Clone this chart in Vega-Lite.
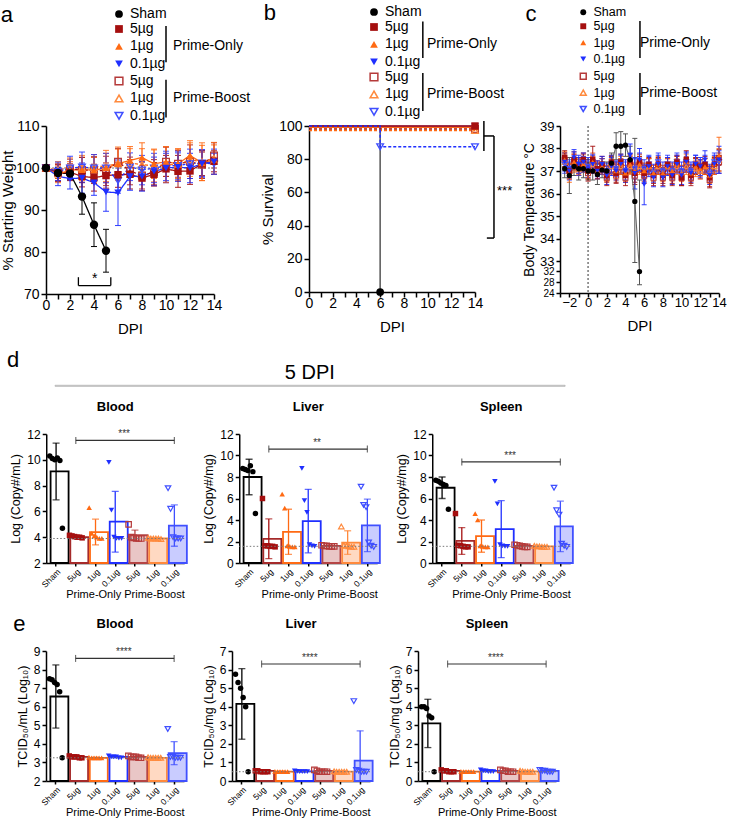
{
"$schema": "https://vega.github.io/schema/vega-lite/v6.json",
"background": "white",
"padding": {"left": 0, "top": 2, "right": 2, "bottom": 2},
"spacing": 13,
"vconcat": [
{"hconcat": [
{
"width": 168, "height": 168,
"title": {"text": "a", "anchor": "start", "fontSize": 22, "fontWeight": "normal", "offset": -20},
"layer": [
{"data": {"name": "wt"}, "transform": [{"flatten": ["ds", "ms", "es"], "as": ["d", "m", "e"]}],
 "mark": {"type": "errorbar", "ticks": {"size": 6}, "thickness": 1},
 "encoding": {
  "x": {"field": "d", "type": "quantitative", "scale": {"domain": [0, 14], "nice": false}, "title": "DPI", "axis": {"values": [0,1,2,3,4,5,6,7,8,9,10,11,12,13,14], "tickCount": 100, "format": "d", "labelExpr": "datum.value % 2 == 0 ? datum.label : ''", "labelFontSize": 14, "titleFontSize": 15, "tickSize": 5, "labelFlush": false, "labelOverlap": false, "labelBound": false, "labelPadding": -1, "titlePadding": 9}},
  "y": {"field": "m", "type": "quantitative", "scale": {"domain": [70, 110], "nice": false, "zero": false}, "title": "% Starting Weight", "axis": {"values": [70, 80, 90, 100, 110], "tickCount": 100, "format": "d", "labelFontSize": 14, "titleFontSize": 15, "tickSize": 5, "titlePadding": 0, "labelOverlap": false}},
  "yError": {"field": "e"},
  "color": {"field": "k", "type": "nominal", "scale": {"domain": ["Sham", "5µg", "1µg", "0.1µg"], "range": ["#000000", "#A50F0F", "#FF6A13", "#1F2FFF"]}, "legend": null},
  "opacity": {"field": "g", "type": "nominal", "scale": {"domain": ["Sham", "PO", "PB"], "range": [1, 0.85, 0.55]}, "legend": null}
 }},
{"data": {"values": [{}]}, "mark": {"type": "rule", "strokeDash": [2, 2], "color": "#777"}, "encoding": {"y": {"datum": 100}}},
{"data": {"name": "wt"}, "transform": [{"flatten": ["ds", "ms", "es"], "as": ["d", "m", "e"]}],
 "mark": {"type": "line", "strokeWidth": 1.3},
 "encoding": {
  "x": {"field": "d", "type": "quantitative"},
  "y": {"field": "m", "type": "quantitative"},
  "color": {"field": "k", "type": "nominal", "scale": {"domain": ["Sham", "5µg", "1µg", "0.1µg"], "range": ["#000000", "#A50F0F", "#FF6A13", "#1F2FFF"]}, "legend": null},
  "strokeDash": {"field": "g", "type": "nominal", "scale": {"domain": ["Sham", "PO", "PB"], "range": [[1, 0], [1, 0], [3, 2]]}, "legend": null}
 }},
{"data": {"name": "wt"}, "transform": [{"flatten": ["ds", "ms", "es"], "as": ["d", "m", "e"]}, {"filter": "datum.g == 'PB'"}],
 "mark": {"type": "point", "filled": false, "size": 45, "strokeWidth": 1.3, "opacity": 1},
 "encoding": {
  "x": {"field": "d", "type": "quantitative"},
  "y": {"field": "m", "type": "quantitative"},
  "color": {"field": "k", "type": "nominal", "scale": {"domain": ["5µg", "1µg", "0.1µg"], "range": ["#B53A3A", "#FF8A3D", "#3F4FFF"]}, "legend": {"orient": "none", "legendX": 66, "legendY": -52, "title": "Prime-Boost", "titlePadding": 8}},
  "shape": {"field": "k", "type": "nominal", "scale": {"domain": ["5µg", "1µg", "0.1µg"], "range": ["square", "triangle-up", "triangle-down"]}}
 }},
{"data": {"name": "wt"}, "transform": [{"flatten": ["ds", "ms", "es"], "as": ["d", "m", "e"]}, {"filter": "datum.g == 'PO'"}],
 "mark": {"type": "point", "filled": true, "size": 55, "opacity": 1},
 "encoding": {
  "x": {"field": "d", "type": "quantitative"},
  "y": {"field": "m", "type": "quantitative"},
  "color": {"field": "k", "type": "nominal", "scale": {"domain": ["5µg", "1µg", "0.1µg"], "range": ["#A50F0F", "#FF6A13", "#1F2FFF"]}, "legend": {"orient": "none", "legendX": 66, "legendY": -104, "title": "Prime-Only", "titlePadding": 8}},
  "shape": {"field": "k", "type": "nominal", "scale": {"domain": ["5µg", "1µg", "0.1µg"], "range": ["square", "triangle-up", "triangle-down"]}}
 }},
{"data": {"name": "wt"}, "transform": [{"flatten": ["ds", "ms", "es"], "as": ["d", "m", "e"]}, {"filter": "datum.g == 'Sham'"}],
 "mark": {"type": "point", "filled": true, "size": 70, "opacity": 1},
 "encoding": {
  "x": {"field": "d", "type": "quantitative"},
  "y": {"field": "m", "type": "quantitative"},
  "color": {"field": "k", "type": "nominal", "scale": {"domain": ["Sham"], "range": ["#000000"]}, "legend": {"orient": "none", "legendX": 66, "legendY": -119, "title": null}},
  "shape": {"field": "k", "type": "nominal", "scale": {"domain": ["Sham"], "range": ["circle"]}}
 }},
{"data": {"values": [{}]}, "mark": {"type": "rule", "strokeWidth": 1.3, "color": "#000"}, "encoding": {"x": {"datum": 2.7}, "x2": {"datum": 5.4}, "y": {"datum": 72}}},
{"data": {"values": [{}]}, "mark": {"type": "rule", "strokeWidth": 1.3, "color": "#000"}, "encoding": {"x": {"datum": 2.7}, "y": {"datum": 72}, "y2": {"datum": 74}}},
{"data": {"values": [{}]}, "mark": {"type": "rule", "strokeWidth": 1.3, "color": "#000"}, "encoding": {"x": {"datum": 5.4}, "y": {"datum": 72}, "y2": {"datum": 74}}},
{"data": {"values": [{}]}, "mark": {"type": "text", "fontSize": 14, "color": "#000"}, "encoding": {"x": {"datum": 4.05}, "y": {"datum": 73.6}, "text": {"value": "*"}}},
{"data": {"values": [{}]}, "mark": {"type": "rule", "strokeWidth": 1.5, "color": "#000", "clip": false}, "encoding": {"x": {"datum": 10.0}, "y": {"datum": 133.8}, "y2": {"datum": 125.2}}},
{"data": {"values": [{}]}, "mark": {"type": "rule", "strokeWidth": 1.5, "color": "#000", "clip": false}, "encoding": {"x": {"datum": 10.0}, "y": {"datum": 121}, "y2": {"datum": 112}}}
],
"resolve": {"scale": {"color": "independent", "shape": "independent"}}
},
{
"width": 166, "height": 166,
"title": {"text": "b", "anchor": "start", "fontSize": 22, "fontWeight": "normal", "offset": -20, "dx": 3},
"layer": [
{"data": {"name": "sv"}, "transform": [{"flatten": ["ds", "ms", "mk"], "as": ["d", "m", "q"]}],
 "mark": {"type": "line", "interpolate": "step-after", "strokeWidth": 1.5},
 "encoding": {
  "x": {"field": "d", "type": "quantitative", "scale": {"domain": [0, 14], "nice": false}, "title": "DPI", "axis": {"values": [0,1,2,3,4,5,6,7,8,9,10,11,12,13,14], "tickCount": 100, "format": "d", "labelExpr": "datum.value % 2 == 0 ? datum.label : ''", "labelFontSize": 14, "titleFontSize": 15, "tickSize": 5, "labelFlush": false, "labelOverlap": false, "labelBound": false, "labelPadding": -1, "titlePadding": 9}},
  "y": {"field": "m", "type": "quantitative", "scale": {"domain": [0, 100], "nice": false}, "title": "% Survival", "axis": {"values": [0, 20, 40, 60, 80, 100], "tickCount": 100, "format": "d", "labelFontSize": 14, "titleFontSize": 15, "tickSize": 5, "titlePadding": 3, "labelOverlap": false}},
  "color": {"field": "k", "type": "nominal", "scale": {"domain": ["Sham", "5µg", "1µg", "0.1µg"], "range": ["#555555", "#A50F0F", "#FF6A13", "#1F2FFF"]}, "legend": null},
  "strokeDash": {"field": "g", "type": "nominal", "scale": {"domain": ["Sham", "PO", "PB"], "range": [[1, 0], [1, 0], [3, 2]]}, "legend": null}
 }},
{"data": {"name": "sv"}, "transform": [{"flatten": ["ds", "ms", "mk"], "as": ["d", "m", "q"]}, {"filter": "datum.q == 1 && datum.g == 'PB'"}],
 "mark": {"type": "point", "filled": false, "size": 45, "strokeWidth": 1.3, "opacity": 1},
 "encoding": {
  "x": {"field": "d", "type": "quantitative"},
  "y": {"field": "m", "type": "quantitative"},
  "color": {"field": "k", "type": "nominal", "scale": {"domain": ["5µg", "1µg", "0.1µg"], "range": ["#B53A3A", "#FF8A3D", "#3F4FFF"]}, "legend": {"orient": "none", "legendX": 58, "legendY": -56, "title": "Prime-Boost", "titlePadding": 7}},
  "shape": {"field": "k", "type": "nominal", "scale": {"domain": ["5µg", "1µg", "0.1µg"], "range": ["square", "triangle-up", "triangle-down"]}}
 }},
{"data": {"name": "sv"}, "transform": [{"flatten": ["ds", "ms", "mk"], "as": ["d", "m", "q"]}, {"filter": "datum.q == 1 && datum.g == 'PO'"}],
 "mark": {"type": "point", "filled": true, "size": 55, "opacity": 1},
 "encoding": {
  "x": {"field": "d", "type": "quantitative"},
  "y": {"field": "m", "type": "quantitative"},
  "color": {"field": "k", "type": "nominal", "scale": {"domain": ["5µg", "1µg", "0.1µg"], "range": ["#A50F0F", "#FF6A13", "#1F2FFF"]}, "legend": {"orient": "none", "legendX": 58, "legendY": -106, "title": "Prime-Only", "titlePadding": 7}},
  "shape": {"field": "k", "type": "nominal", "scale": {"domain": ["5µg", "1µg", "0.1µg"], "range": ["square", "triangle-up", "triangle-down"]}}
 }},
{"data": {"name": "sv"}, "transform": [{"flatten": ["ds", "ms", "mk"], "as": ["d", "m", "q"]}, {"filter": "datum.q == 1 && datum.g == 'Sham'"}],
 "mark": {"type": "point", "filled": true, "size": 60, "opacity": 1},
 "encoding": {
  "x": {"field": "d", "type": "quantitative"},
  "y": {"field": "m", "type": "quantitative"},
  "color": {"field": "k", "type": "nominal", "scale": {"domain": ["Sham"], "range": ["#000000"]}, "legend": {"orient": "none", "legendX": 58, "legendY": -121, "title": null}},
  "shape": {"field": "k", "type": "nominal", "scale": {"domain": ["Sham"], "range": ["circle"]}}
 }},
{"data": {"values": [{}]}, "mark": {"type": "rule", "strokeWidth": 1.5, "color": "#000", "clip": false}, "encoding": {"x": {"datum": 14.75}, "y": {"datum": 103}, "y2": {"datum": 85}}},
{"data": {"values": [{}]}, "mark": {"type": "rule", "strokeWidth": 1.5, "color": "#000", "clip": false}, "encoding": {"x": {"datum": 14.75}, "x2": {"datum": 15.6}, "y": {"datum": 94}}},
{"data": {"values": [{}]}, "mark": {"type": "rule", "strokeWidth": 1.5, "color": "#000", "clip": false}, "encoding": {"x": {"datum": 15.6}, "y": {"datum": 94}, "y2": {"datum": 32.5}}},
{"data": {"values": [{}]}, "mark": {"type": "rule", "strokeWidth": 1.5, "color": "#000", "clip": false}, "encoding": {"x": {"datum": 15.0}, "x2": {"datum": 15.6}, "y": {"datum": 32.5}}},
{"data": {"values": [{}]}, "mark": {"type": "text", "fontSize": 13, "color": "#000"}, "encoding": {"x": {"datum": 16.5}, "y": {"datum": 61}, "text": {"value": "***"}}},
{"data": {"values": [{}]}, "mark": {"type": "rule", "strokeWidth": 1.5, "color": "#000", "clip": false}, "encoding": {"x": {"datum": 9.6}, "y": {"datum": 163}, "y2": {"datum": 141}}},
{"data": {"values": [{}]}, "mark": {"type": "rule", "strokeWidth": 1.5, "color": "#000", "clip": false}, "encoding": {"x": {"datum": 9.6}, "y": {"datum": 132}, "y2": {"datum": 109}}}
],
"resolve": {"scale": {"color": "independent", "shape": "independent"}}
},
{
"width": 159, "height": 167,
"title": {"text": "c", "anchor": "start", "fontSize": 22, "fontWeight": "normal", "offset": -20, "dx": 3},
"layer": [
{"data": {"name": "bt"}, "transform": [{"flatten": ["ds", "ms", "es"], "as": ["d", "m", "e"]}],
 "mark": {"type": "errorbar", "ticks": {"size": 5}, "thickness": 1},
 "encoding": {
  "x": {"field": "d", "type": "quantitative", "scale": {"domain": [-3, 14], "nice": false}, "title": "DPI", "axis": {"values": [-3,-2,-1,0,1,2,3,4,5,6,7,8,9,10,11,12,13,14], "tickCount": 100, "format": "d", "labelExpr": "datum.value % 2 == 0 ? datum.label : ''", "labelFontSize": 13, "titleFontSize": 15, "tickSize": 4, "labelFlush": false, "labelOverlap": false, "labelBound": false, "labelPadding": -1, "titlePadding": 9}},
  "y": {"field": "m", "type": "quantitative", "scale": {"domain": [24, 32, 33, 39], "range": [167, 145, 135, 0], "nice": false, "zero": false}, "title": "Body Temperature °C", "axis": {"values": [24, 28, 32, 33, 34, 35, 36, 37, 38, 39], "tickCount": 100, "format": "d", "labelFontSize": {"condition": {"test": "datum.value < 33", "value": 10}, "value": 13}, "titleFontSize": 14, "tickSize": 4, "titlePadding": 3, "labelOverlap": false}},
  "yError": {"field": "e"},
  "color": {"field": "k", "type": "nominal", "scale": {"domain": ["Sham", "5µg", "1µg", "0.1µg"], "range": ["#555555", "#A50F0F", "#FF6A13", "#1F2FFF"]}, "legend": null},
  "opacity": {"field": "g", "type": "nominal", "scale": {"domain": ["Sham", "PO", "PB"], "range": [1, 0.8, 0.55]}, "legend": null}
 }},
{"data": {"values": [{}]}, "mark": {"type": "rule", "strokeDash": [2, 2], "color": "#333"}, "encoding": {"x": {"datum": 0}}},
{"data": {"name": "bt"}, "transform": [{"flatten": ["ds", "ms", "es"], "as": ["d", "m", "e"]}],
 "mark": {"type": "line", "strokeWidth": 1.1},
 "encoding": {
  "x": {"field": "d", "type": "quantitative"},
  "y": {"field": "m", "type": "quantitative"},
  "color": {"field": "k", "type": "nominal", "scale": {"domain": ["Sham", "5µg", "1µg", "0.1µg"], "range": ["#666666", "#A50F0F", "#FF6A13", "#1F2FFF"]}, "legend": null},
  "strokeDash": {"field": "g", "type": "nominal", "scale": {"domain": ["Sham", "PO", "PB"], "range": [[1, 0], [1, 0], [2, 2]]}, "legend": null}
 }},
{"data": {"name": "bt"}, "transform": [{"flatten": ["ds", "ms", "es"], "as": ["d", "m", "e"]}, {"filter": "datum.g == 'PB'"}],
 "mark": {"type": "point", "filled": false, "size": 25, "strokeWidth": 1.1, "opacity": 1},
 "encoding": {
  "x": {"field": "d", "type": "quantitative"},
  "y": {"field": "m", "type": "quantitative"},
  "color": {"field": "k", "type": "nominal", "scale": {"domain": ["5µg", "1µg", "0.1µg"], "range": ["#B53A3A", "#FF8A3D", "#3F4FFF"]}, "legend": {"orient": "none", "legendX": 17, "legendY": -56, "title": "Prime-Boost", "titlePadding": 15, "labelFontSize": 12.5, "symbolSize": 35}},
  "shape": {"field": "k", "type": "nominal", "scale": {"domain": ["5µg", "1µg", "0.1µg"], "range": ["square", "triangle-up", "triangle-down"]}}
 }},
{"data": {"name": "bt"}, "transform": [{"flatten": ["ds", "ms", "es"], "as": ["d", "m", "e"]}, {"filter": "datum.g == 'PO'"}],
 "mark": {"type": "point", "filled": true, "size": 30, "opacity": 1},
 "encoding": {
  "x": {"field": "d", "type": "quantitative"},
  "y": {"field": "m", "type": "quantitative"},
  "color": {"field": "k", "type": "nominal", "scale": {"domain": ["5µg", "1µg", "0.1µg"], "range": ["#A50F0F", "#FF6A13", "#1F2FFF"]}, "legend": {"orient": "none", "legendX": 17, "legendY": -106, "title": "Prime-Only", "titlePadding": 15, "labelFontSize": 12.5, "symbolSize": 35}},
  "shape": {"field": "k", "type": "nominal", "scale": {"domain": ["5µg", "1µg", "0.1µg"], "range": ["square", "triangle-up", "triangle-down"]}}
 }},
{"data": {"name": "bt"}, "transform": [{"flatten": ["ds", "ms", "es"], "as": ["d", "m", "e"]}, {"filter": "datum.g == 'Sham'"}],
 "mark": {"type": "point", "filled": true, "size": 28, "opacity": 1},
 "encoding": {
  "x": {"field": "d", "type": "quantitative"},
  "y": {"field": "m", "type": "quantitative"},
  "color": {"field": "k", "type": "nominal", "scale": {"domain": ["Sham"], "range": ["#000000"]}, "legend": {"orient": "none", "legendX": 17, "legendY": -120, "title": null, "labelFontSize": 12.5, "symbolSize": 35}},
  "shape": {"field": "k", "type": "nominal", "scale": {"domain": ["Sham"], "range": ["circle"]}}
 }},
{"data": {"values": [{}]}, "mark": {"type": "rule", "strokeWidth": 1.5, "color": "#000", "clip": false}, "encoding": {"x": {"datum": 5.55}, "y": {"datum": 43.67}, "y2": {"datum": 42.02}}},
{"data": {"values": [{}]}, "mark": {"type": "rule", "strokeWidth": 1.5, "color": "#000", "clip": false}, "encoding": {"x": {"datum": 5.55}, "y": {"datum": 41.36}, "y2": {"datum": 39.49}}}
],
"resolve": {"scale": {"color": "independent", "shape": "independent"}}
}
], "spacing": 9},
{
"title": {"text": "d", "anchor": "start", "fontSize": 22, "fontWeight": "normal", "dx": -3, "offset": -10},
"spacing": 10,
"center": true,
"vconcat": [
{"width": 510, "height": 1, "view": {"stroke": "#aaaaaa", "strokeWidth": 0.8},
 "title": {"text": "5 DPI", "fontSize": 20, "fontWeight": "normal", "offset": -3},
 "data": {"values": [{"t": ""}]}, "mark": {"type": "text"}, "encoding": {"text": {"field": "t"}}},
{"hconcat": [
{
"width": 138, "height": 129,
"title": {"text": "Blood", "fontSize": 13, "fontWeight": "bold", "offset": 14},
"layer": [
{"data": {"name": "vx"}, "transform": [{"filter": "datum.p == 'dB'"}],
 "mark": {"type": "bar", "width": {"band": 0.62}, "strokeWidth": 1.8},
 "encoding": {
  "x": {"field": "c", "type": "nominal", "scale": {"domain": ["Sham","5ug PO","1ug PO","0.1ug PO","5ug PB","1ug PB","0.1ug PB"]}, "title": "Prime-Only    Prime-Boost", "axis": {"labelAngle": -45, "labelFontSize": 8.5, "labelExpr": "split(datum.label, ' ')[0]", "titleFontSize": 11, "titleAnchor": "end", "tickSize": 3, "labelPadding": 1, "titlePadding": 0}},
  "y": {"field": "m", "type": "quantitative", "scale": {"domain": [2, 12], "nice": false, "zero": false}, "title": "Log (Copy#/mL)", "axis": {"values": [2,4,6,8,10,12], "tickCount": 100, "format": "d", "labelFontSize": 12, "titleFontSize": 12.5, "tickSize": 4, "titlePadding": 4, "labelOverlap": false}},
  "y2": {"datum": 2},
  "stroke": {"field": "c", "type": "nominal", "scale": {"domain": ["Sham","5ug PO","1ug PO","0.1ug PO","5ug PB","1ug PB","0.1ug PB"], "range": ["#000000","#A52A2A","#FF6A13","#1F2FFF","#B54545","#FF8A3D","#4050FF"]}, "legend": null},
  "fill": {"field": "c", "type": "nominal", "scale": {"domain": ["Sham","5ug PO","1ug PO","0.1ug PO","5ug PB","1ug PB","0.1ug PB"], "range": ["#ffffff","#ffffff","#ffffff","#ffffff","#E9C6C6","#FFD9C2","#C9CCFF"]}, "legend": null}
 }},
{"data": {"name": "vx"}, "transform": [{"filter": "datum.p == 'dB'"}],
 "mark": {"type": "errorbar", "ticks": {"size": 7}, "thickness": 1.3, "clip": true},
 "encoding": {
  "x": {"field": "c", "type": "nominal", "title": "Prime-Only    Prime-Boost"},
  "y": {"field": "m", "type": "quantitative", "title": "Log (Copy#/mL)"},
  "yError": {"field": "e"},
  "color": {"field": "c", "type": "nominal", "scale": {"domain": ["Sham","5ug PO","1ug PO","0.1ug PO","5ug PB","1ug PB","0.1ug PB"], "range": ["#000000","#A50F0F","#FF6A13","#1F2FFF","#B53A3A","#FF8A3D","#3F4FFF"]}, "legend": null}
 }},
{"data": {"name": "vx"}, "transform": [{"filter": "datum.p == 'dB' && indexof(datum.c, 'PB') < 0"}, {"flatten": ["vs", "rs"], "as": ["v", "r"]}],
 "mark": {"type": "point", "filled": true, "size": 30, "opacity": 1},
 "encoding": {
  "x": {"field": "c", "type": "nominal", "title": "Prime-Only    Prime-Boost"},
  "xOffset": {"field": "r", "type": "nominal", "scale": {"paddingOuter": 1}},
  "y": {"field": "v", "type": "quantitative", "title": "Log (Copy#/mL)"},
  "color": {"field": "c", "type": "nominal", "scale": {"domain": ["Sham","5ug PO","1ug PO","0.1ug PO","5ug PB","1ug PB","0.1ug PB"], "range": ["#000000","#A50F0F","#FF6A13","#1F2FFF","#B53A3A","#FF8A3D","#3F4FFF"]}, "legend": null},
  "shape": {"field": "c", "type": "nominal", "scale": {"domain": ["Sham","5ug PO","1ug PO","0.1ug PO","5ug PB","1ug PB","0.1ug PB"], "range": ["circle","square","triangle-up","triangle-down","square","triangle-up","triangle-down"]}, "legend": null}
 }},
{"data": {"name": "vx"}, "transform": [{"filter": "datum.p == 'dB' && indexof(datum.c, 'PB') >= 0"}, {"flatten": ["vs", "rs"], "as": ["v", "r"]}],
 "mark": {"type": "point", "filled": false, "size": 30, "strokeWidth": 1.2, "opacity": 1},
 "encoding": {
  "x": {"field": "c", "type": "nominal", "title": "Prime-Only    Prime-Boost"},
  "xOffset": {"field": "r", "type": "nominal", "scale": {"paddingOuter": 1}},
  "y": {"field": "v", "type": "quantitative", "title": "Log (Copy#/mL)"},
  "color": {"field": "c", "type": "nominal", "scale": {"domain": ["Sham","5ug PO","1ug PO","0.1ug PO","5ug PB","1ug PB","0.1ug PB"], "range": ["#000000","#A50F0F","#FF6A13","#1F2FFF","#B53A3A","#FF8A3D","#3F4FFF"]}, "legend": null},
  "shape": {"field": "c", "type": "nominal", "scale": {"domain": ["Sham","5ug PO","1ug PO","0.1ug PO","5ug PB","1ug PB","0.1ug PB"], "range": ["circle","square","triangle-up","triangle-down","square","triangle-up","triangle-down"]}, "legend": null}
 }},
{"data": {"name": "sig"}, "transform": [{"filter": "datum.p == 'dB'"}], "mark": {"type": "rule", "strokeDash": [1.5, 2], "color": "#777"}, "encoding": {"y": {"field": "lod", "type": "quantitative", "title": "Log (Copy#/mL)"}}},
{"data": {"name": "sig"}, "transform": [{"filter": "datum.p == 'dB'"}], "mark": {"type": "rule", "strokeWidth": 1.2, "color": "#333"}, "encoding": {"x": {"field": "a", "type": "nominal", "title": "Prime-Only    Prime-Boost"}, "x2": {"field": "b"}, "y": {"field": "br", "type": "quantitative", "title": "Log (Copy#/mL)"}}},
{"data": {"name": "sig"}, "transform": [{"filter": "datum.p == 'dB'"}], "mark": {"type": "tick", "orient": "vertical", "size": 7, "thickness": 1.2, "color": "#333"}, "encoding": {"x": {"field": "a", "type": "nominal", "title": "Prime-Only    Prime-Boost"}, "y": {"field": "br", "type": "quantitative", "title": "Log (Copy#/mL)"}}},
{"data": {"name": "sig"}, "transform": [{"filter": "datum.p == 'dB'"}], "mark": {"type": "tick", "orient": "vertical", "size": 7, "thickness": 1.2, "color": "#333"}, "encoding": {"x": {"field": "b", "type": "nominal", "title": "Prime-Only    Prime-Boost"}, "y": {"field": "br", "type": "quantitative", "title": "Log (Copy#/mL)"}}},
{"data": {"name": "sig"}, "transform": [{"filter": "datum.p == 'dB'"}], "mark": {"type": "text", "fontSize": 10, "baseline": "bottom", "dy": -1, "color": "#333"}, "encoding": {"x": {"field": "mc", "type": "nominal", "bandPosition": 1, "title": "Prime-Only    Prime-Boost"}, "y": {"field": "br", "type": "quantitative", "title": "Log (Copy#/mL)"}, "text": {"field": "t"}}}
]
},
{
"width": 138, "height": 129,
"title": {"text": "Liver", "fontSize": 13, "fontWeight": "bold", "offset": 14},
"layer": [
{"data": {"name": "vx"}, "transform": [{"filter": "datum.p == 'dL'"}],
 "mark": {"type": "bar", "width": {"band": 0.62}, "strokeWidth": 1.8},
 "encoding": {
  "x": {"field": "c", "type": "nominal", "scale": {"domain": ["Sham","5ug PO","1ug PO","0.1ug PO","5ug PB","1ug PB","0.1ug PB"]}, "title": "Prime-only    Prime-Boost", "axis": {"labelAngle": -45, "labelFontSize": 8.5, "labelExpr": "split(datum.label, ' ')[0]", "titleFontSize": 11, "titleAnchor": "end", "tickSize": 3, "labelPadding": 1, "titlePadding": 0}},
  "y": {"field": "m", "type": "quantitative", "scale": {"domain": [0, 12], "nice": false, "zero": false}, "title": "Log (Copy#/mg)", "axis": {"values": [0,2,4,6,8,10,12], "tickCount": 100, "format": "d", "labelFontSize": 12, "titleFontSize": 12.5, "tickSize": 4, "titlePadding": 4, "labelOverlap": false}},
  "y2": {"datum": 0},
  "stroke": {"field": "c", "type": "nominal", "scale": {"domain": ["Sham","5ug PO","1ug PO","0.1ug PO","5ug PB","1ug PB","0.1ug PB"], "range": ["#000000","#A52A2A","#FF6A13","#1F2FFF","#B54545","#FF8A3D","#4050FF"]}, "legend": null},
  "fill": {"field": "c", "type": "nominal", "scale": {"domain": ["Sham","5ug PO","1ug PO","0.1ug PO","5ug PB","1ug PB","0.1ug PB"], "range": ["#ffffff","#ffffff","#ffffff","#ffffff","#E9C6C6","#FFD9C2","#C9CCFF"]}, "legend": null}
 }},
{"data": {"name": "vx"}, "transform": [{"filter": "datum.p == 'dL'"}],
 "mark": {"type": "errorbar", "ticks": {"size": 7}, "thickness": 1.3, "clip": true},
 "encoding": {
  "x": {"field": "c", "type": "nominal", "title": "Prime-only    Prime-Boost"},
  "y": {"field": "m", "type": "quantitative", "title": "Log (Copy#/mg)"},
  "yError": {"field": "e"},
  "color": {"field": "c", "type": "nominal", "scale": {"domain": ["Sham","5ug PO","1ug PO","0.1ug PO","5ug PB","1ug PB","0.1ug PB"], "range": ["#000000","#A50F0F","#FF6A13","#1F2FFF","#B53A3A","#FF8A3D","#3F4FFF"]}, "legend": null}
 }},
{"data": {"name": "vx"}, "transform": [{"filter": "datum.p == 'dL' && indexof(datum.c, 'PB') < 0"}, {"flatten": ["vs", "rs"], "as": ["v", "r"]}],
 "mark": {"type": "point", "filled": true, "size": 30, "opacity": 1},
 "encoding": {
  "x": {"field": "c", "type": "nominal", "title": "Prime-only    Prime-Boost"},
  "xOffset": {"field": "r", "type": "nominal", "scale": {"paddingOuter": 1}},
  "y": {"field": "v", "type": "quantitative", "title": "Log (Copy#/mg)"},
  "color": {"field": "c", "type": "nominal", "scale": {"domain": ["Sham","5ug PO","1ug PO","0.1ug PO","5ug PB","1ug PB","0.1ug PB"], "range": ["#000000","#A50F0F","#FF6A13","#1F2FFF","#B53A3A","#FF8A3D","#3F4FFF"]}, "legend": null},
  "shape": {"field": "c", "type": "nominal", "scale": {"domain": ["Sham","5ug PO","1ug PO","0.1ug PO","5ug PB","1ug PB","0.1ug PB"], "range": ["circle","square","triangle-up","triangle-down","square","triangle-up","triangle-down"]}, "legend": null}
 }},
{"data": {"name": "vx"}, "transform": [{"filter": "datum.p == 'dL' && indexof(datum.c, 'PB') >= 0"}, {"flatten": ["vs", "rs"], "as": ["v", "r"]}],
 "mark": {"type": "point", "filled": false, "size": 30, "strokeWidth": 1.2, "opacity": 1},
 "encoding": {
  "x": {"field": "c", "type": "nominal", "title": "Prime-only    Prime-Boost"},
  "xOffset": {"field": "r", "type": "nominal", "scale": {"paddingOuter": 1}},
  "y": {"field": "v", "type": "quantitative", "title": "Log (Copy#/mg)"},
  "color": {"field": "c", "type": "nominal", "scale": {"domain": ["Sham","5ug PO","1ug PO","0.1ug PO","5ug PB","1ug PB","0.1ug PB"], "range": ["#000000","#A50F0F","#FF6A13","#1F2FFF","#B53A3A","#FF8A3D","#3F4FFF"]}, "legend": null},
  "shape": {"field": "c", "type": "nominal", "scale": {"domain": ["Sham","5ug PO","1ug PO","0.1ug PO","5ug PB","1ug PB","0.1ug PB"], "range": ["circle","square","triangle-up","triangle-down","square","triangle-up","triangle-down"]}, "legend": null}
 }},
{"data": {"name": "sig"}, "transform": [{"filter": "datum.p == 'dL'"}], "mark": {"type": "rule", "strokeDash": [1.5, 2], "color": "#777"}, "encoding": {"y": {"field": "lod", "type": "quantitative", "title": "Log (Copy#/mg)"}}},
{"data": {"name": "sig"}, "transform": [{"filter": "datum.p == 'dL'"}], "mark": {"type": "rule", "strokeWidth": 1.2, "color": "#333"}, "encoding": {"x": {"field": "a", "type": "nominal", "title": "Prime-only    Prime-Boost"}, "x2": {"field": "b"}, "y": {"field": "br", "type": "quantitative", "title": "Log (Copy#/mg)"}}},
{"data": {"name": "sig"}, "transform": [{"filter": "datum.p == 'dL'"}], "mark": {"type": "tick", "orient": "vertical", "size": 7, "thickness": 1.2, "color": "#333"}, "encoding": {"x": {"field": "a", "type": "nominal", "title": "Prime-only    Prime-Boost"}, "y": {"field": "br", "type": "quantitative", "title": "Log (Copy#/mg)"}}},
{"data": {"name": "sig"}, "transform": [{"filter": "datum.p == 'dL'"}], "mark": {"type": "tick", "orient": "vertical", "size": 7, "thickness": 1.2, "color": "#333"}, "encoding": {"x": {"field": "b", "type": "nominal", "title": "Prime-only    Prime-Boost"}, "y": {"field": "br", "type": "quantitative", "title": "Log (Copy#/mg)"}}},
{"data": {"name": "sig"}, "transform": [{"filter": "datum.p == 'dL'"}], "mark": {"type": "text", "fontSize": 10, "baseline": "bottom", "dy": -1, "color": "#333"}, "encoding": {"x": {"field": "mc", "type": "nominal", "bandPosition": 1, "title": "Prime-only    Prime-Boost"}, "y": {"field": "br", "type": "quantitative", "title": "Log (Copy#/mg)"}, "text": {"field": "t"}}}
]
},
{
"width": 138, "height": 129,
"title": {"text": "Spleen", "fontSize": 13, "fontWeight": "bold", "offset": 14},
"layer": [
{"data": {"name": "vx"}, "transform": [{"filter": "datum.p == 'dS'"}],
 "mark": {"type": "bar", "width": {"band": 0.62}, "strokeWidth": 1.8},
 "encoding": {
  "x": {"field": "c", "type": "nominal", "scale": {"domain": ["Sham","5ug PO","1ug PO","0.1ug PO","5ug PB","1ug PB","0.1ug PB"]}, "title": "Prime-Only    Prime-Boost", "axis": {"labelAngle": -45, "labelFontSize": 8.5, "labelExpr": "split(datum.label, ' ')[0]", "titleFontSize": 11, "titleAnchor": "end", "tickSize": 3, "labelPadding": 1, "titlePadding": 0}},
  "y": {"field": "m", "type": "quantitative", "scale": {"domain": [0, 12], "nice": false, "zero": false}, "title": "Log (Copy#/mg)", "axis": {"values": [0,2,4,6,8,10,12], "tickCount": 100, "format": "d", "labelFontSize": 12, "titleFontSize": 12.5, "tickSize": 4, "titlePadding": 4, "labelOverlap": false}},
  "y2": {"datum": 0},
  "stroke": {"field": "c", "type": "nominal", "scale": {"domain": ["Sham","5ug PO","1ug PO","0.1ug PO","5ug PB","1ug PB","0.1ug PB"], "range": ["#000000","#A52A2A","#FF6A13","#1F2FFF","#B54545","#FF8A3D","#4050FF"]}, "legend": null},
  "fill": {"field": "c", "type": "nominal", "scale": {"domain": ["Sham","5ug PO","1ug PO","0.1ug PO","5ug PB","1ug PB","0.1ug PB"], "range": ["#ffffff","#ffffff","#ffffff","#ffffff","#E9C6C6","#FFD9C2","#C9CCFF"]}, "legend": null}
 }},
{"data": {"name": "vx"}, "transform": [{"filter": "datum.p == 'dS'"}],
 "mark": {"type": "errorbar", "ticks": {"size": 7}, "thickness": 1.3, "clip": true},
 "encoding": {
  "x": {"field": "c", "type": "nominal", "title": "Prime-Only    Prime-Boost"},
  "y": {"field": "m", "type": "quantitative", "title": "Log (Copy#/mg)"},
  "yError": {"field": "e"},
  "color": {"field": "c", "type": "nominal", "scale": {"domain": ["Sham","5ug PO","1ug PO","0.1ug PO","5ug PB","1ug PB","0.1ug PB"], "range": ["#000000","#A50F0F","#FF6A13","#1F2FFF","#B53A3A","#FF8A3D","#3F4FFF"]}, "legend": null}
 }},
{"data": {"name": "vx"}, "transform": [{"filter": "datum.p == 'dS' && indexof(datum.c, 'PB') < 0"}, {"flatten": ["vs", "rs"], "as": ["v", "r"]}],
 "mark": {"type": "point", "filled": true, "size": 30, "opacity": 1},
 "encoding": {
  "x": {"field": "c", "type": "nominal", "title": "Prime-Only    Prime-Boost"},
  "xOffset": {"field": "r", "type": "nominal", "scale": {"paddingOuter": 1}},
  "y": {"field": "v", "type": "quantitative", "title": "Log (Copy#/mg)"},
  "color": {"field": "c", "type": "nominal", "scale": {"domain": ["Sham","5ug PO","1ug PO","0.1ug PO","5ug PB","1ug PB","0.1ug PB"], "range": ["#000000","#A50F0F","#FF6A13","#1F2FFF","#B53A3A","#FF8A3D","#3F4FFF"]}, "legend": null},
  "shape": {"field": "c", "type": "nominal", "scale": {"domain": ["Sham","5ug PO","1ug PO","0.1ug PO","5ug PB","1ug PB","0.1ug PB"], "range": ["circle","square","triangle-up","triangle-down","square","triangle-up","triangle-down"]}, "legend": null}
 }},
{"data": {"name": "vx"}, "transform": [{"filter": "datum.p == 'dS' && indexof(datum.c, 'PB') >= 0"}, {"flatten": ["vs", "rs"], "as": ["v", "r"]}],
 "mark": {"type": "point", "filled": false, "size": 30, "strokeWidth": 1.2, "opacity": 1},
 "encoding": {
  "x": {"field": "c", "type": "nominal", "title": "Prime-Only    Prime-Boost"},
  "xOffset": {"field": "r", "type": "nominal", "scale": {"paddingOuter": 1}},
  "y": {"field": "v", "type": "quantitative", "title": "Log (Copy#/mg)"},
  "color": {"field": "c", "type": "nominal", "scale": {"domain": ["Sham","5ug PO","1ug PO","0.1ug PO","5ug PB","1ug PB","0.1ug PB"], "range": ["#000000","#A50F0F","#FF6A13","#1F2FFF","#B53A3A","#FF8A3D","#3F4FFF"]}, "legend": null},
  "shape": {"field": "c", "type": "nominal", "scale": {"domain": ["Sham","5ug PO","1ug PO","0.1ug PO","5ug PB","1ug PB","0.1ug PB"], "range": ["circle","square","triangle-up","triangle-down","square","triangle-up","triangle-down"]}, "legend": null}
 }},
{"data": {"name": "sig"}, "transform": [{"filter": "datum.p == 'dS'"}], "mark": {"type": "rule", "strokeDash": [1.5, 2], "color": "#777"}, "encoding": {"y": {"field": "lod", "type": "quantitative", "title": "Log (Copy#/mg)"}}},
{"data": {"name": "sig"}, "transform": [{"filter": "datum.p == 'dS'"}], "mark": {"type": "rule", "strokeWidth": 1.2, "color": "#333"}, "encoding": {"x": {"field": "a", "type": "nominal", "title": "Prime-Only    Prime-Boost"}, "x2": {"field": "b"}, "y": {"field": "br", "type": "quantitative", "title": "Log (Copy#/mg)"}}},
{"data": {"name": "sig"}, "transform": [{"filter": "datum.p == 'dS'"}], "mark": {"type": "tick", "orient": "vertical", "size": 7, "thickness": 1.2, "color": "#333"}, "encoding": {"x": {"field": "a", "type": "nominal", "title": "Prime-Only    Prime-Boost"}, "y": {"field": "br", "type": "quantitative", "title": "Log (Copy#/mg)"}}},
{"data": {"name": "sig"}, "transform": [{"filter": "datum.p == 'dS'"}], "mark": {"type": "tick", "orient": "vertical", "size": 7, "thickness": 1.2, "color": "#333"}, "encoding": {"x": {"field": "b", "type": "nominal", "title": "Prime-Only    Prime-Boost"}, "y": {"field": "br", "type": "quantitative", "title": "Log (Copy#/mg)"}}},
{"data": {"name": "sig"}, "transform": [{"filter": "datum.p == 'dS'"}], "mark": {"type": "text", "fontSize": 10, "baseline": "bottom", "dy": -1, "color": "#333"}, "encoding": {"x": {"field": "mc", "type": "nominal", "bandPosition": 1, "title": "Prime-Only    Prime-Boost"}, "y": {"field": "br", "type": "quantitative", "title": "Log (Copy#/mg)"}, "text": {"field": "t"}}}
]
}
], "spacing": 14}
]
},
{
"title": {"text": "e", "anchor": "start", "fontSize": 22, "fontWeight": "normal", "dx": -3, "offset": -18},
"spacing": 14,
"hconcat": [
{
"width": 138, "height": 130,
"title": {"text": "Blood", "fontSize": 13, "fontWeight": "bold", "offset": 14},
"layer": [
{"data": {"name": "vx"}, "transform": [{"filter": "datum.p == 'eB'"}],
 "mark": {"type": "bar", "width": {"band": 0.62}, "strokeWidth": 1.8},
 "encoding": {
  "x": {"field": "c", "type": "nominal", "scale": {"domain": ["Sham","5ug PO","1ug PO","0.1ug PO","5ug PB","1ug PB","0.1ug PB"]}, "title": "Prime-Only    Prime-Boost", "axis": {"labelAngle": -45, "labelFontSize": 8.5, "labelExpr": "split(datum.label, ' ')[0]", "titleFontSize": 11, "titleAnchor": "end", "tickSize": 3, "labelPadding": 1, "titlePadding": 0}},
  "y": {"field": "m", "type": "quantitative", "scale": {"domain": [2, 9], "nice": false, "zero": false}, "title": "TCID₅₀/mL (Log₁₀)", "axis": {"values": [2,3,4,5,6,7,8,9], "tickCount": 100, "format": "d", "labelFontSize": 12, "titleFontSize": 12.5, "tickSize": 4, "titlePadding": 4, "labelOverlap": false}},
  "y2": {"datum": 2},
  "stroke": {"field": "c", "type": "nominal", "scale": {"domain": ["Sham","5ug PO","1ug PO","0.1ug PO","5ug PB","1ug PB","0.1ug PB"], "range": ["#000000","#A52A2A","#FF6A13","#1F2FFF","#B54545","#FF8A3D","#4050FF"]}, "legend": null},
  "fill": {"field": "c", "type": "nominal", "scale": {"domain": ["Sham","5ug PO","1ug PO","0.1ug PO","5ug PB","1ug PB","0.1ug PB"], "range": ["#ffffff","#ffffff","#ffffff","#ffffff","#E9C6C6","#FFD9C2","#C9CCFF"]}, "legend": null}
 }},
{"data": {"name": "vx"}, "transform": [{"filter": "datum.p == 'eB'"}],
 "mark": {"type": "errorbar", "ticks": {"size": 7}, "thickness": 1.3, "clip": true},
 "encoding": {
  "x": {"field": "c", "type": "nominal", "title": "Prime-Only    Prime-Boost"},
  "y": {"field": "m", "type": "quantitative", "title": "TCID₅₀/mL (Log₁₀)"},
  "yError": {"field": "e"},
  "color": {"field": "c", "type": "nominal", "scale": {"domain": ["Sham","5ug PO","1ug PO","0.1ug PO","5ug PB","1ug PB","0.1ug PB"], "range": ["#000000","#A50F0F","#FF6A13","#1F2FFF","#B53A3A","#FF8A3D","#3F4FFF"]}, "legend": null}
 }},
{"data": {"name": "vx"}, "transform": [{"filter": "datum.p == 'eB' && indexof(datum.c, 'PB') < 0"}, {"flatten": ["vs", "rs"], "as": ["v", "r"]}],
 "mark": {"type": "point", "filled": true, "size": 30, "opacity": 1},
 "encoding": {
  "x": {"field": "c", "type": "nominal", "title": "Prime-Only    Prime-Boost"},
  "xOffset": {"field": "r", "type": "nominal", "scale": {"paddingOuter": 1}},
  "y": {"field": "v", "type": "quantitative", "title": "TCID₅₀/mL (Log₁₀)"},
  "color": {"field": "c", "type": "nominal", "scale": {"domain": ["Sham","5ug PO","1ug PO","0.1ug PO","5ug PB","1ug PB","0.1ug PB"], "range": ["#000000","#A50F0F","#FF6A13","#1F2FFF","#B53A3A","#FF8A3D","#3F4FFF"]}, "legend": null},
  "shape": {"field": "c", "type": "nominal", "scale": {"domain": ["Sham","5ug PO","1ug PO","0.1ug PO","5ug PB","1ug PB","0.1ug PB"], "range": ["circle","square","triangle-up","triangle-down","square","triangle-up","triangle-down"]}, "legend": null}
 }},
{"data": {"name": "vx"}, "transform": [{"filter": "datum.p == 'eB' && indexof(datum.c, 'PB') >= 0"}, {"flatten": ["vs", "rs"], "as": ["v", "r"]}],
 "mark": {"type": "point", "filled": false, "size": 30, "strokeWidth": 1.2, "opacity": 1},
 "encoding": {
  "x": {"field": "c", "type": "nominal", "title": "Prime-Only    Prime-Boost"},
  "xOffset": {"field": "r", "type": "nominal", "scale": {"paddingOuter": 1}},
  "y": {"field": "v", "type": "quantitative", "title": "TCID₅₀/mL (Log₁₀)"},
  "color": {"field": "c", "type": "nominal", "scale": {"domain": ["Sham","5ug PO","1ug PO","0.1ug PO","5ug PB","1ug PB","0.1ug PB"], "range": ["#000000","#A50F0F","#FF6A13","#1F2FFF","#B53A3A","#FF8A3D","#3F4FFF"]}, "legend": null},
  "shape": {"field": "c", "type": "nominal", "scale": {"domain": ["Sham","5ug PO","1ug PO","0.1ug PO","5ug PB","1ug PB","0.1ug PB"], "range": ["circle","square","triangle-up","triangle-down","square","triangle-up","triangle-down"]}, "legend": null}
 }},
{"data": {"name": "sig"}, "transform": [{"filter": "datum.p == 'eB'"}], "mark": {"type": "rule", "strokeDash": [1.5, 2], "color": "#777"}, "encoding": {"y": {"field": "lod", "type": "quantitative", "title": "TCID₅₀/mL (Log₁₀)"}}},
{"data": {"name": "sig"}, "transform": [{"filter": "datum.p == 'eB'"}], "mark": {"type": "rule", "strokeWidth": 1.2, "color": "#333"}, "encoding": {"x": {"field": "a", "type": "nominal", "title": "Prime-Only    Prime-Boost"}, "x2": {"field": "b"}, "y": {"field": "br", "type": "quantitative", "title": "TCID₅₀/mL (Log₁₀)"}}},
{"data": {"name": "sig"}, "transform": [{"filter": "datum.p == 'eB'"}], "mark": {"type": "tick", "orient": "vertical", "size": 7, "thickness": 1.2, "color": "#333"}, "encoding": {"x": {"field": "a", "type": "nominal", "title": "Prime-Only    Prime-Boost"}, "y": {"field": "br", "type": "quantitative", "title": "TCID₅₀/mL (Log₁₀)"}}},
{"data": {"name": "sig"}, "transform": [{"filter": "datum.p == 'eB'"}], "mark": {"type": "tick", "orient": "vertical", "size": 7, "thickness": 1.2, "color": "#333"}, "encoding": {"x": {"field": "b", "type": "nominal", "title": "Prime-Only    Prime-Boost"}, "y": {"field": "br", "type": "quantitative", "title": "TCID₅₀/mL (Log₁₀)"}}},
{"data": {"name": "sig"}, "transform": [{"filter": "datum.p == 'eB'"}], "mark": {"type": "text", "fontSize": 10, "baseline": "bottom", "dy": -1, "color": "#333"}, "encoding": {"x": {"field": "mc", "type": "nominal", "bandPosition": 1, "title": "Prime-Only    Prime-Boost"}, "y": {"field": "br", "type": "quantitative", "title": "TCID₅₀/mL (Log₁₀)"}, "text": {"field": "t"}}}
]
},
{
"width": 138, "height": 130,
"title": {"text": "Liver", "fontSize": 13, "fontWeight": "bold", "offset": 14},
"layer": [
{"data": {"name": "vx"}, "transform": [{"filter": "datum.p == 'eL'"}],
 "mark": {"type": "bar", "width": {"band": 0.62}, "strokeWidth": 1.8},
 "encoding": {
  "x": {"field": "c", "type": "nominal", "scale": {"domain": ["Sham","5ug PO","1ug PO","0.1ug PO","5ug PB","1ug PB","0.1ug PB"]}, "title": "Prime-Only    Prime-Boost", "axis": {"labelAngle": -45, "labelFontSize": 8.5, "labelExpr": "split(datum.label, ' ')[0]", "titleFontSize": 11, "titleAnchor": "end", "tickSize": 3, "labelPadding": 1, "titlePadding": 0}},
  "y": {"field": "m", "type": "quantitative", "scale": {"domain": [0, 7], "nice": false, "zero": false}, "title": "TCID₅₀/mg (Log₁₀)", "axis": {"values": [0,1,2,3,4,5,6,7], "tickCount": 100, "format": "d", "labelFontSize": 12, "titleFontSize": 12.5, "tickSize": 4, "titlePadding": 4, "labelOverlap": false}},
  "y2": {"datum": 0},
  "stroke": {"field": "c", "type": "nominal", "scale": {"domain": ["Sham","5ug PO","1ug PO","0.1ug PO","5ug PB","1ug PB","0.1ug PB"], "range": ["#000000","#A52A2A","#FF6A13","#1F2FFF","#B54545","#FF8A3D","#4050FF"]}, "legend": null},
  "fill": {"field": "c", "type": "nominal", "scale": {"domain": ["Sham","5ug PO","1ug PO","0.1ug PO","5ug PB","1ug PB","0.1ug PB"], "range": ["#ffffff","#ffffff","#ffffff","#ffffff","#E9C6C6","#FFD9C2","#C9CCFF"]}, "legend": null}
 }},
{"data": {"name": "vx"}, "transform": [{"filter": "datum.p == 'eL'"}],
 "mark": {"type": "errorbar", "ticks": {"size": 7}, "thickness": 1.3, "clip": true},
 "encoding": {
  "x": {"field": "c", "type": "nominal", "title": "Prime-Only    Prime-Boost"},
  "y": {"field": "m", "type": "quantitative", "title": "TCID₅₀/mg (Log₁₀)"},
  "yError": {"field": "e"},
  "color": {"field": "c", "type": "nominal", "scale": {"domain": ["Sham","5ug PO","1ug PO","0.1ug PO","5ug PB","1ug PB","0.1ug PB"], "range": ["#000000","#A50F0F","#FF6A13","#1F2FFF","#B53A3A","#FF8A3D","#3F4FFF"]}, "legend": null}
 }},
{"data": {"name": "vx"}, "transform": [{"filter": "datum.p == 'eL' && indexof(datum.c, 'PB') < 0"}, {"flatten": ["vs", "rs"], "as": ["v", "r"]}],
 "mark": {"type": "point", "filled": true, "size": 30, "opacity": 1},
 "encoding": {
  "x": {"field": "c", "type": "nominal", "title": "Prime-Only    Prime-Boost"},
  "xOffset": {"field": "r", "type": "nominal", "scale": {"paddingOuter": 1}},
  "y": {"field": "v", "type": "quantitative", "title": "TCID₅₀/mg (Log₁₀)"},
  "color": {"field": "c", "type": "nominal", "scale": {"domain": ["Sham","5ug PO","1ug PO","0.1ug PO","5ug PB","1ug PB","0.1ug PB"], "range": ["#000000","#A50F0F","#FF6A13","#1F2FFF","#B53A3A","#FF8A3D","#3F4FFF"]}, "legend": null},
  "shape": {"field": "c", "type": "nominal", "scale": {"domain": ["Sham","5ug PO","1ug PO","0.1ug PO","5ug PB","1ug PB","0.1ug PB"], "range": ["circle","square","triangle-up","triangle-down","square","triangle-up","triangle-down"]}, "legend": null}
 }},
{"data": {"name": "vx"}, "transform": [{"filter": "datum.p == 'eL' && indexof(datum.c, 'PB') >= 0"}, {"flatten": ["vs", "rs"], "as": ["v", "r"]}],
 "mark": {"type": "point", "filled": false, "size": 30, "strokeWidth": 1.2, "opacity": 1},
 "encoding": {
  "x": {"field": "c", "type": "nominal", "title": "Prime-Only    Prime-Boost"},
  "xOffset": {"field": "r", "type": "nominal", "scale": {"paddingOuter": 1}},
  "y": {"field": "v", "type": "quantitative", "title": "TCID₅₀/mg (Log₁₀)"},
  "color": {"field": "c", "type": "nominal", "scale": {"domain": ["Sham","5ug PO","1ug PO","0.1ug PO","5ug PB","1ug PB","0.1ug PB"], "range": ["#000000","#A50F0F","#FF6A13","#1F2FFF","#B53A3A","#FF8A3D","#3F4FFF"]}, "legend": null},
  "shape": {"field": "c", "type": "nominal", "scale": {"domain": ["Sham","5ug PO","1ug PO","0.1ug PO","5ug PB","1ug PB","0.1ug PB"], "range": ["circle","square","triangle-up","triangle-down","square","triangle-up","triangle-down"]}, "legend": null}
 }},
{"data": {"name": "sig"}, "transform": [{"filter": "datum.p == 'eL'"}], "mark": {"type": "rule", "strokeDash": [1.5, 2], "color": "#777"}, "encoding": {"y": {"field": "lod", "type": "quantitative", "title": "TCID₅₀/mg (Log₁₀)"}}},
{"data": {"name": "sig"}, "transform": [{"filter": "datum.p == 'eL'"}], "mark": {"type": "rule", "strokeWidth": 1.2, "color": "#333"}, "encoding": {"x": {"field": "a", "type": "nominal", "title": "Prime-Only    Prime-Boost"}, "x2": {"field": "b"}, "y": {"field": "br", "type": "quantitative", "title": "TCID₅₀/mg (Log₁₀)"}}},
{"data": {"name": "sig"}, "transform": [{"filter": "datum.p == 'eL'"}], "mark": {"type": "tick", "orient": "vertical", "size": 7, "thickness": 1.2, "color": "#333"}, "encoding": {"x": {"field": "a", "type": "nominal", "title": "Prime-Only    Prime-Boost"}, "y": {"field": "br", "type": "quantitative", "title": "TCID₅₀/mg (Log₁₀)"}}},
{"data": {"name": "sig"}, "transform": [{"filter": "datum.p == 'eL'"}], "mark": {"type": "tick", "orient": "vertical", "size": 7, "thickness": 1.2, "color": "#333"}, "encoding": {"x": {"field": "b", "type": "nominal", "title": "Prime-Only    Prime-Boost"}, "y": {"field": "br", "type": "quantitative", "title": "TCID₅₀/mg (Log₁₀)"}}},
{"data": {"name": "sig"}, "transform": [{"filter": "datum.p == 'eL'"}], "mark": {"type": "text", "fontSize": 10, "baseline": "bottom", "dy": -1, "color": "#333"}, "encoding": {"x": {"field": "mc", "type": "nominal", "bandPosition": 1, "title": "Prime-Only    Prime-Boost"}, "y": {"field": "br", "type": "quantitative", "title": "TCID₅₀/mg (Log₁₀)"}, "text": {"field": "t"}}}
]
},
{
"width": 138, "height": 130,
"title": {"text": "Spleen", "fontSize": 13, "fontWeight": "bold", "offset": 14},
"layer": [
{"data": {"name": "vx"}, "transform": [{"filter": "datum.p == 'eS'"}],
 "mark": {"type": "bar", "width": {"band": 0.62}, "strokeWidth": 1.8},
 "encoding": {
  "x": {"field": "c", "type": "nominal", "scale": {"domain": ["Sham","5ug PO","1ug PO","0.1ug PO","5ug PB","1ug PB","0.1ug PB"]}, "title": "Prime-Only    Prime-Boost", "axis": {"labelAngle": -45, "labelFontSize": 8.5, "labelExpr": "split(datum.label, ' ')[0]", "titleFontSize": 11, "titleAnchor": "end", "tickSize": 3, "labelPadding": 1, "titlePadding": 0}},
  "y": {"field": "m", "type": "quantitative", "scale": {"domain": [0, 7], "nice": false, "zero": false}, "title": "TCID₅₀/mg (Log₁₀)", "axis": {"values": [0,1,2,3,4,5,6,7], "tickCount": 100, "format": "d", "labelFontSize": 12, "titleFontSize": 12.5, "tickSize": 4, "titlePadding": 4, "labelOverlap": false}},
  "y2": {"datum": 0},
  "stroke": {"field": "c", "type": "nominal", "scale": {"domain": ["Sham","5ug PO","1ug PO","0.1ug PO","5ug PB","1ug PB","0.1ug PB"], "range": ["#000000","#A52A2A","#FF6A13","#1F2FFF","#B54545","#FF8A3D","#4050FF"]}, "legend": null},
  "fill": {"field": "c", "type": "nominal", "scale": {"domain": ["Sham","5ug PO","1ug PO","0.1ug PO","5ug PB","1ug PB","0.1ug PB"], "range": ["#ffffff","#ffffff","#ffffff","#ffffff","#E9C6C6","#FFD9C2","#C9CCFF"]}, "legend": null}
 }},
{"data": {"name": "vx"}, "transform": [{"filter": "datum.p == 'eS'"}],
 "mark": {"type": "errorbar", "ticks": {"size": 7}, "thickness": 1.3, "clip": true},
 "encoding": {
  "x": {"field": "c", "type": "nominal", "title": "Prime-Only    Prime-Boost"},
  "y": {"field": "m", "type": "quantitative", "title": "TCID₅₀/mg (Log₁₀)"},
  "yError": {"field": "e"},
  "color": {"field": "c", "type": "nominal", "scale": {"domain": ["Sham","5ug PO","1ug PO","0.1ug PO","5ug PB","1ug PB","0.1ug PB"], "range": ["#000000","#A50F0F","#FF6A13","#1F2FFF","#B53A3A","#FF8A3D","#3F4FFF"]}, "legend": null}
 }},
{"data": {"name": "vx"}, "transform": [{"filter": "datum.p == 'eS' && indexof(datum.c, 'PB') < 0"}, {"flatten": ["vs", "rs"], "as": ["v", "r"]}],
 "mark": {"type": "point", "filled": true, "size": 30, "opacity": 1},
 "encoding": {
  "x": {"field": "c", "type": "nominal", "title": "Prime-Only    Prime-Boost"},
  "xOffset": {"field": "r", "type": "nominal", "scale": {"paddingOuter": 1}},
  "y": {"field": "v", "type": "quantitative", "title": "TCID₅₀/mg (Log₁₀)"},
  "color": {"field": "c", "type": "nominal", "scale": {"domain": ["Sham","5ug PO","1ug PO","0.1ug PO","5ug PB","1ug PB","0.1ug PB"], "range": ["#000000","#A50F0F","#FF6A13","#1F2FFF","#B53A3A","#FF8A3D","#3F4FFF"]}, "legend": null},
  "shape": {"field": "c", "type": "nominal", "scale": {"domain": ["Sham","5ug PO","1ug PO","0.1ug PO","5ug PB","1ug PB","0.1ug PB"], "range": ["circle","square","triangle-up","triangle-down","square","triangle-up","triangle-down"]}, "legend": null}
 }},
{"data": {"name": "vx"}, "transform": [{"filter": "datum.p == 'eS' && indexof(datum.c, 'PB') >= 0"}, {"flatten": ["vs", "rs"], "as": ["v", "r"]}],
 "mark": {"type": "point", "filled": false, "size": 30, "strokeWidth": 1.2, "opacity": 1},
 "encoding": {
  "x": {"field": "c", "type": "nominal", "title": "Prime-Only    Prime-Boost"},
  "xOffset": {"field": "r", "type": "nominal", "scale": {"paddingOuter": 1}},
  "y": {"field": "v", "type": "quantitative", "title": "TCID₅₀/mg (Log₁₀)"},
  "color": {"field": "c", "type": "nominal", "scale": {"domain": ["Sham","5ug PO","1ug PO","0.1ug PO","5ug PB","1ug PB","0.1ug PB"], "range": ["#000000","#A50F0F","#FF6A13","#1F2FFF","#B53A3A","#FF8A3D","#3F4FFF"]}, "legend": null},
  "shape": {"field": "c", "type": "nominal", "scale": {"domain": ["Sham","5ug PO","1ug PO","0.1ug PO","5ug PB","1ug PB","0.1ug PB"], "range": ["circle","square","triangle-up","triangle-down","square","triangle-up","triangle-down"]}, "legend": null}
 }},
{"data": {"name": "sig"}, "transform": [{"filter": "datum.p == 'eS'"}], "mark": {"type": "rule", "strokeDash": [1.5, 2], "color": "#777"}, "encoding": {"y": {"field": "lod", "type": "quantitative", "title": "TCID₅₀/mg (Log₁₀)"}}},
{"data": {"name": "sig"}, "transform": [{"filter": "datum.p == 'eS'"}], "mark": {"type": "rule", "strokeWidth": 1.2, "color": "#333"}, "encoding": {"x": {"field": "a", "type": "nominal", "title": "Prime-Only    Prime-Boost"}, "x2": {"field": "b"}, "y": {"field": "br", "type": "quantitative", "title": "TCID₅₀/mg (Log₁₀)"}}},
{"data": {"name": "sig"}, "transform": [{"filter": "datum.p == 'eS'"}], "mark": {"type": "tick", "orient": "vertical", "size": 7, "thickness": 1.2, "color": "#333"}, "encoding": {"x": {"field": "a", "type": "nominal", "title": "Prime-Only    Prime-Boost"}, "y": {"field": "br", "type": "quantitative", "title": "TCID₅₀/mg (Log₁₀)"}}},
{"data": {"name": "sig"}, "transform": [{"filter": "datum.p == 'eS'"}], "mark": {"type": "tick", "orient": "vertical", "size": 7, "thickness": 1.2, "color": "#333"}, "encoding": {"x": {"field": "b", "type": "nominal", "title": "Prime-Only    Prime-Boost"}, "y": {"field": "br", "type": "quantitative", "title": "TCID₅₀/mg (Log₁₀)"}}},
{"data": {"name": "sig"}, "transform": [{"filter": "datum.p == 'eS'"}], "mark": {"type": "text", "fontSize": 10, "baseline": "bottom", "dy": -1, "color": "#333"}, "encoding": {"x": {"field": "mc", "type": "nominal", "bandPosition": 1, "title": "Prime-Only    Prime-Boost"}, "y": {"field": "br", "type": "quantitative", "title": "TCID₅₀/mg (Log₁₀)"}, "text": {"field": "t"}}}
]
}
]
}
],
"datasets": {
"wt": [
{"g": "Sham", "k": "Sham", "ds": [0,1,2,3,4,5], "ms": [100,98.8,98.7,93.2,86.5,80.3], "es": [0,1.3,1.5,4.2,5.2,5.1]},
{"g": "PO", "k": "5µg", "ds": [0,1,2,3,4,5,6,7,8,9,10,11,12,13,14], "ms": [100,98.8,99.0,98.0,97.7,98.2,98.4,98.5,97.6,98.5,99.8,99.2,99.3,101.0,101.6], "es": [0,2.0,2.0,2.5,3.2,3.0,3.0,3.5,3.0,2.8,3.2,3.8,3.2,2.8,2.5]},
{"g": "PO", "k": "1µg", "ds": [0,1,2,3,4,5,6,7,8,9,10,11,12,13,14], "ms": [100,98.5,99.5,99.6,99.5,100.0,101.0,101.8,102.5,101.0,101.5,101.0,103.0,101.2,102.0], "es": [0,2.0,2.0,3.0,3.0,3.5,3.5,3.3,3.5,3.5,3.5,3.5,3.5,4.2,3.5]},
{"g": "PO", "k": "0.1µg", "ds": [0,1,2,3,4,5,6,7,8,9,10,11,12,13,14], "ms": [100,98.0,97.5,97.6,96.5,94.3,94.1,98.0,98.0,99.2,100.0,100.2,100.0,101.0,101.5], "es": [0,2.2,2.5,3.6,3.0,4.6,7.8,3.3,3.5,3.4,3.5,3.4,3.5,3.2,3.0]},
{"g": "PB", "k": "5µg", "ds": [0,1,2,3,4,5,6,7,8,9,10,11,12,13,14], "ms": [100,99.0,99.8,99.5,99.5,99.3,101.5,99.3,98.2,99.0,101.5,101.0,101.5,100.8,103.0], "es": [0,2.0,2.3,3.0,3.2,3.5,3.2,3.3,3.2,3.0,3.5,3.2,4.0,3.3,3.0]},
{"g": "PB", "k": "1µg", "ds": [0,1,2,3,4,5,6,7,8,9,10,11,12,13,14], "ms": [100,99.5,100.2,100.0,100.2,100.5,101.0,101.2,100.8,100.5,100.8,100.8,102.0,101.5,102.3], "es": [0,2.0,2.2,3.0,3.0,3.7,4.0,3.4,3.8,3.8,4.3,3.8,4.0,4.5,3.8]},
{"g": "PB", "k": "0.1µg", "ds": [0,1,2,3,4,5,6,7,8,9,10,11,12,13,14], "ms": [100,99.2,100.0,100.2,100.0,100.0,97.0,100.3,99.5,100.0,100.5,100.6,101.0,101.2,101.0], "es": [0,2.2,2.8,3.6,3.2,3.5,3.0,3.3,3.5,3.5,3.5,3.4,3.5,3.2,2.5]}
],
"sv": [
{"g": "Sham", "k": "Sham", "ds": [0,6], "ms": [100,0], "mk": [0,1]},
{"g": "PO", "k": "0.1µg", "ds": [0,14], "ms": [99.8,99.8], "mk": [0,1]},
{"g": "PO", "k": "1µg", "ds": [0,14], "ms": [99.3,99.3], "mk": [0,1]},
{"g": "PO", "k": "5µg", "ds": [0,14], "ms": [100,100], "mk": [0,1]},
{"g": "PB", "k": "5µg", "ds": [0,14], "ms": [98.2,98.2], "mk": [0,1]},
{"g": "PB", "k": "1µg", "ds": [0,14], "ms": [97.3,97.3], "mk": [0,1]},
{"g": "PB", "k": "0.1µg", "ds": [0,6,14], "ms": [100,87.5,87.5], "mk": [0,1,1]}
],
"bt": [
{"g": "Sham", "k": "Sham", "ds": [-2.5,-2,-1.5,-1,-0.5,0,0.5,1,1.5,2,2.5,3,3.5,4,4.5,5,5.5], "ms": [37.1,36.8,37.2,37.1,37.1,37.0,37.0,36.85,37.05,37.0,37.35,38.1,38.1,38.15,37.5,35.65,31.8], "es": [0.4,0.8,0.4,0.5,0.4,0.4,0.4,0.45,0.35,0.4,0.45,0.6,0.65,0.5,0.6,2.8,4.8]},
{"g": "PO", "k": "5µg", "ds": [-2.5,-2,-1.5,-1,-0.5,0,0.5,1,1.5,2,2.5,3,3.5,4,4.5,5,5.5,6,6.5,7,7.5,8,8.5,9,9.5,10,10.5,11,11.5,12,12.5,13,13.5,14], "ms": [37.6,37.0,37.5,37.2,37.5,37.0,37.5,37.1,37.3,36.8,37.4,36.9,37.4,36.8,37.4,36.9,37.4,36.9,37.3,36.8,37.3,36.8,37.3,36.8,37.4,36.7,37.5,36.8,37.3,37.2,37.3,36.7,37.3,37.6], "es": [0.3,0.3,0.35,0.3,0.3,0.35,0.6,0.35,0.35,0.3,0.3,0.4,0.35,0.3,0.35,0.4,0.35,0.35,0.3,0.35,0.3,0.35,0.3,0.35,0.3,0.35,0.4,0.35,0.3,0.3,0.35,0.4,0.3,0.35]},
{"g": "PO", "k": "1µg", "ds": [-2.5,-2,-1.5,-1,-0.5,0,0.5,1,1.5,2,2.5,3,3.5,4,4.5,5,5.5,6,6.5,7,7.5,8,8.5,9,9.5,10,10.5,11,11.5,12,12.5,13,13.5,14], "ms": [37.5,36.9,37.4,37.2,37.3,37.1,37.4,37.0,37.2,36.9,37.3,37.0,37.3,36.9,37.3,37.0,37.3,37.0,37.2,36.9,37.3,36.9,37.2,37.0,37.3,36.9,37.4,36.9,37.2,37.1,37.2,36.8,37.3,37.7], "es": [0.35,0.4,0.35,0.35,0.35,0.4,0.4,0.35,0.35,0.35,0.35,0.4,0.35,0.35,0.4,0.35,0.35,0.35,0.35,0.35,0.35,0.35,0.35,0.35,0.35,0.35,0.35,0.35,0.35,0.35,0.35,0.35,0.35,0.8]},
{"g": "PO", "k": "0.1µg", "ds": [-2.5,-2,-1.5,-1,-0.5,0,0.5,1,1.5,2,2.5,3,3.5,4,4.5,5,5.5,6,6.5,7,7.5,8,8.5,9,9.5,10,10.5,11,11.5,12,12.5,13,13.5,14], "ms": [37.4,37.0,37.6,37.3,37.4,37.1,37.3,37.0,37.3,36.8,37.2,37.0,37.3,37.0,37.7,36.9,37.5,36.4,37.2,36.7,37.3,36.7,37.2,36.8,37.3,36.8,37.4,36.9,37.3,37.2,37.5,36.8,37.3,37.5], "es": [0.4,0.4,0.35,0.4,0.4,0.4,0.4,0.35,0.35,0.4,0.4,0.4,0.4,0.5,0.5,0.7,0.5,0.9,0.45,0.4,0.4,0.4,0.4,0.4,0.4,0.4,0.45,0.4,0.4,0.4,0.4,0.4,0.4,0.6]},
{"g": "PB", "k": "5µg", "ds": [-2.5,-2,-1.5,-1,-0.5,0,0.5,1,1.5,2,2.5,3,3.5,4,4.5,5,5.5,6,6.5,7,7.5,8,8.5,9,9.5,10,10.5,11,11.5,12,12.5,13,13.5,14], "ms": [37.5,37.0,37.4,37.1,37.4,36.9,37.3,37.0,37.2,36.7,37.3,36.8,37.2,36.7,37.3,36.8,37.3,36.8,37.2,36.7,37.2,36.7,37.2,36.7,37.3,36.7,37.3,36.7,37.2,37.0,37.2,36.6,37.2,37.4], "es": [0.3,0.35,0.35,0.3,0.35,0.35,0.35,0.35,0.35,0.35,0.35,0.35,0.35,0.35,0.35,0.4,0.35,0.35,0.35,0.35,0.35,0.35,0.35,0.35,0.35,0.35,0.35,0.35,0.35,0.35,0.35,0.35,0.35,0.4]},
{"g": "PB", "k": "1µg", "ds": [-2.5,-2,-1.5,-1,-0.5,0,0.5,1,1.5,2,2.5,3,3.5,4,4.5,5,5.5,6,6.5,7,7.5,8,8.5,9,9.5,10,10.5,11,11.5,12,12.5,13,13.5,14], "ms": [37.4,37.0,37.3,37.1,37.3,37.0,37.3,37.1,37.2,36.9,37.2,37.0,37.2,36.9,37.2,37.0,37.2,37.0,37.2,36.9,37.2,36.9,37.2,36.9,37.2,36.9,37.2,36.9,37.1,37.0,37.2,36.9,37.2,37.5], "es": [0.35,0.35,0.35,0.3,0.35,0.35,0.35,0.3,0.35,0.35,0.35,0.35,0.35,0.35,0.35,0.35,0.35,0.35,0.35,0.35,0.35,0.35,0.35,0.35,0.35,0.35,0.35,0.35,0.35,0.35,0.35,0.35,0.35,0.5]},
{"g": "PB", "k": "0.1µg", "ds": [-2.5,-2,-1.5,-1,-0.5,0,0.5,1,1.5,2,2.5,3,3.5,4,4.5,5,5.5,6,6.5,7,7.5,8,8.5,9,9.5,10,10.5,11,11.5,12,12.5,13,13.5,14], "ms": [37.3,37.1,37.5,37.2,37.3,37.2,37.4,37.1,37.2,37.0,37.3,37.1,37.4,37.0,37.4,37.1,37.4,37.1,37.3,36.9,37.4,37.0,37.3,37.0,37.4,37.0,37.4,37.0,37.3,37.1,37.3,36.9,37.4,37.4], "es": [0.4,0.4,0.35,0.4,0.35,0.4,0.35,0.35,0.35,0.35,0.4,0.35,0.35,0.4,0.4,0.45,0.4,0.4,0.4,0.4,0.4,0.4,0.4,0.4,0.4,0.4,0.4,0.4,0.4,0.4,0.4,0.4,0.4,0.5]}
],
"vx": [
{"p": "dB", "c": "Sham", "m": 9.1, "e": 2.2, "vs": [10.3,10.1,10.0,10.15,9.95,4.7], "rs": [1,2,3,4,5,6]},
{"p": "dB", "c": "5ug PO", "m": 4.0, "e": 0.1, "vs": [4.15,4.1,4.05,4.0,4.0,3.95], "rs": [1,2,3,4,5,6]},
{"p": "dB", "c": "1ug PO", "m": 4.4, "e": 1.0, "vs": [6.3,4.3,4.1,4.0,3.9,3.9], "rs": [1,2,3,4,5,6]},
{"p": "dB", "c": "0.1ug PO", "m": 5.2, "e": 2.35, "vs": [9.8,6.1,4.0,3.9,3.9,3.9], "rs": [1,2,3,4,5,6]},
{"p": "dB", "c": "5ug PB", "m": 4.15, "e": 0.4, "vs": [5.0,4.0,3.95,3.9,3.9,3.9], "rs": [1,2,3,4,5,6]},
{"p": "dB", "c": "1ug PB", "m": 3.9, "e": 0.05, "vs": [3.95,3.9,3.9,3.9,3.9,3.85], "rs": [1,2,3,4,5,6]},
{"p": "dB", "c": "0.1ug PB", "m": 4.9, "e": 1.6, "vs": [7.8,6.2,4.0,3.9,3.9,3.9], "rs": [1,2,3,4,5,6]},
{"p": "dL", "c": "Sham", "m": 8.0, "e": 1.65, "vs": [8.8,8.7,8.6,9.05,8.5,4.6], "rs": [1,2,3,4,5,6]},
{"p": "dL", "c": "5ug PO", "m": 2.25, "e": 1.85, "vs": [6.0,1.6,1.6,1.55,1.55,1.5], "rs": [1,2,3,4,5,6]},
{"p": "dL", "c": "1ug PO", "m": 2.9, "e": 2.1, "vs": [6.4,5.1,1.6,1.55,1.5,1.5], "rs": [1,2,3,4,5,6]},
{"p": "dL", "c": "0.1ug PO", "m": 3.9, "e": 2.95, "vs": [8.8,5.8,4.7,1.7,1.6,1.55], "rs": [1,2,3,4,5,6]},
{"p": "dL", "c": "5ug PB", "m": 1.6, "e": 0.05, "vs": [1.65,1.6,1.6,1.55,1.55,1.55], "rs": [1,2,3,4,5,6]},
{"p": "dL", "c": "1ug PB", "m": 1.9, "e": 1.1, "vs": [3.4,1.65,1.6,1.55,1.5,1.5], "rs": [1,2,3,4,5,6]},
{"p": "dL", "c": "0.1ug PB", "m": 3.5, "e": 2.45, "vs": [7.1,5.4,5.2,1.9,1.6,1.5], "rs": [1,2,3,4,5,6]},
{"p": "dS", "c": "Sham", "m": 7.0, "e": 1.0, "vs": [7.7,7.6,7.45,7.3,7.2,5.0], "rs": [1,2,3,4,5,6]},
{"p": "dS", "c": "5ug PO", "m": 2.05, "e": 1.25, "vs": [4.6,1.65,1.6,1.55,1.5,1.5], "rs": [1,2,3,4,5,6]},
{"p": "dS", "c": "1ug PO", "m": 2.5, "e": 1.5, "vs": [4.6,4.0,1.6,1.55,1.5,1.5], "rs": [1,2,3,4,5,6]},
{"p": "dS", "c": "0.1ug PO", "m": 3.15, "e": 2.65, "vs": [7.6,5.5,1.7,1.6,1.55,1.55], "rs": [1,2,3,4,5,6]},
{"p": "dS", "c": "5ug PB", "m": 1.6, "e": 0.1, "vs": [1.7,1.65,1.6,1.55,1.5,1.5], "rs": [1,2,3,4,5,6]},
{"p": "dS", "c": "1ug PB", "m": 1.55, "e": 0.05, "vs": [1.6,1.55,1.55,1.5,1.5,1.5], "rs": [1,2,3,4,5,6]},
{"p": "dS", "c": "0.1ug PB", "m": 3.4, "e": 2.35, "vs": [7.0,4.9,4.5,1.8,1.6,1.5], "rs": [1,2,3,4,5,6]},
{"p": "eB", "c": "Sham", "m": 6.55, "e": 1.7, "vs": [7.5,7.45,7.3,7.2,6.8,3.25], "rs": [1,2,3,4,5,6]},
{"p": "eB", "c": "5ug PO", "m": 3.3, "e": 0.05, "vs": [3.35,3.3,3.3,3.3,3.25,3.25], "rs": [1,2,3,4,5,6]},
{"p": "eB", "c": "1ug PO", "m": 3.25, "e": 0.03, "vs": [3.28,3.25,3.25,3.25,3.25,3.25], "rs": [1,2,3,4,5,6]},
{"p": "eB", "c": "0.1ug PO", "m": 3.3, "e": 0.05, "vs": [3.35,3.3,3.3,3.3,3.25,3.25], "rs": [1,2,3,4,5,6]},
{"p": "eB", "c": "5ug PB", "m": 3.3, "e": 0.05, "vs": [3.35,3.3,3.3,3.3,3.25,3.25], "rs": [1,2,3,4,5,6]},
{"p": "eB", "c": "1ug PB", "m": 3.25, "e": 0.03, "vs": [3.28,3.25,3.25,3.25,3.25,3.25], "rs": [1,2,3,4,5,6]},
{"p": "eB", "c": "0.1ug PB", "m": 3.5, "e": 0.62, "vs": [4.8,3.3,3.3,3.25,3.25,3.25], "rs": [1,2,3,4,5,6]},
{"p": "eL", "c": "Sham", "m": 4.15, "e": 1.9, "vs": [5.75,5.3,5.0,4.5,4.0,0.5], "rs": [1,2,3,4,5,6]},
{"p": "eL", "c": "5ug PO", "m": 0.55, "e": 0.03, "vs": [0.55,0.55,0.5,0.5,0.5,0.5], "rs": [1,2,3,4,5,6]},
{"p": "eL", "c": "1ug PO", "m": 0.5, "e": 0.03, "vs": [0.52,0.5,0.5,0.5,0.5,0.5], "rs": [1,2,3,4,5,6]},
{"p": "eL", "c": "0.1ug PO", "m": 0.52, "e": 0.03, "vs": [0.55,0.52,0.5,0.5,0.5,0.5], "rs": [1,2,3,4,5,6]},
{"p": "eL", "c": "5ug PB", "m": 0.55, "e": 0.05, "vs": [0.6,0.55,0.5,0.5,0.5,0.5], "rs": [1,2,3,4,5,6]},
{"p": "eL", "c": "1ug PB", "m": 0.5, "e": 0.03, "vs": [0.52,0.5,0.5,0.5,0.5,0.5], "rs": [1,2,3,4,5,6]},
{"p": "eL", "c": "0.1ug PB", "m": 1.1, "e": 1.6, "vs": [4.3,0.6,0.55,0.5,0.5,0.5], "rs": [1,2,3,4,5,6]},
{"p": "eS", "c": "Sham", "m": 3.1, "e": 1.3, "vs": [4.0,4.0,3.9,3.5,3.4,0.5], "rs": [1,2,3,4,5,6]},
{"p": "eS", "c": "5ug PO", "m": 0.55, "e": 0.05, "vs": [0.6,0.55,0.55,0.5,0.5,0.5], "rs": [1,2,3,4,5,6]},
{"p": "eS", "c": "1ug PO", "m": 0.5, "e": 0.03, "vs": [0.52,0.5,0.5,0.5,0.5,0.5], "rs": [1,2,3,4,5,6]},
{"p": "eS", "c": "0.1ug PO", "m": 0.55, "e": 0.05, "vs": [0.6,0.55,0.55,0.5,0.5,0.5], "rs": [1,2,3,4,5,6]},
{"p": "eS", "c": "5ug PB", "m": 0.55, "e": 0.05, "vs": [0.6,0.55,0.55,0.5,0.5,0.5], "rs": [1,2,3,4,5,6]},
{"p": "eS", "c": "1ug PB", "m": 0.52, "e": 0.03, "vs": [0.55,0.52,0.5,0.5,0.5,0.5], "rs": [1,2,3,4,5,6]},
{"p": "eS", "c": "0.1ug PB", "m": 0.55, "e": 0.05, "vs": [0.6,0.55,0.55,0.5,0.5,0.5], "rs": [1,2,3,4,5,6]}
],
"sig": [
{"p": "dB", "a": "5ug PO", "b": "0.1ug PB", "mc": "0.1ug PO", "br": 11.5, "t": "***", "lod": 3.9},
{"p": "dL", "a": "5ug PO", "b": "0.1ug PB", "mc": "0.1ug PO", "br": 10.6, "t": "**", "lod": 1.55},
{"p": "dS", "a": "5ug PO", "b": "0.1ug PB", "mc": "0.1ug PO", "br": 9.4, "t": "***", "lod": 1.55},
{"p": "eB", "a": "5ug PO", "b": "0.1ug PB", "mc": "0.1ug PO", "br": 8.6, "t": "****", "lod": 3.25},
{"p": "eL", "a": "5ug PO", "b": "0.1ug PB", "mc": "0.1ug PO", "br": 6.3, "t": "****", "lod": 0.5},
{"p": "eS", "a": "5ug PO", "b": "0.1ug PB", "mc": "0.1ug PO", "br": 6.3, "t": "****", "lod": 0.5}
]
},
"config": {
"font": "Liberation Sans",
"view": {"stroke": null},
"axis": {"grid": false, "domainColor": "#000", "domainWidth": 1.5, "tickColor": "#000", "tickWidth": 1.5, "labelColor": "#000", "titleColor": "#000", "titleFontWeight": "normal", "labelOverlap": false},
"legend": {"labelFontSize": 14, "labelColor": "#000", "titleFontSize": 14, "titleFontWeight": "normal", "titleColor": "#000", "symbolSize": 60, "rowPadding": 3.4, "titleOrient": "right", "titleBaseline": "middle", "titleAnchor": "middle", "symbolStrokeWidth": 1.5},
"title": {"color": "#000"}
}
}
